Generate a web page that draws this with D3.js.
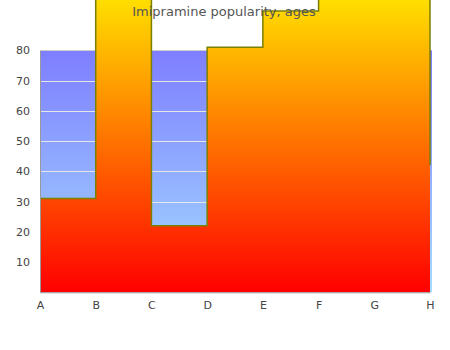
<!DOCTYPE html>
<html>
<head>
<meta charset="utf-8">
<script src="https://cdn.jsdelivr.net/npm/d3@7"></script>
<style>
  html, body { margin: 0; padding: 0; background: #fff; }
  svg { display: block; font-family: "DejaVu Sans", sans-serif; }
</style>
</head>
<body>
<svg id="chart" width="450" height="350"></svg>
<script>
// Popularity by age group, drawn as a stepped area
const categories = ["A", "B", "C", "D", "E", "F", "G", "H"];
const popularity = [31, 104, 22, 81, 93, 108, 111, 42];
const yTicks = [10, 20, 30, 40, 50, 60, 70, 80];
const titleText = "Imipramine popularity, ages";

const svg = d3.select("#chart");
const plotLeft = 40, plotRight = 430, plotTop = 50.3, plotBottom = 292.3;

const x = d3.scalePoint().domain(categories).range([plotLeft, plotRight]);
const y = d3.scaleLinear().domain([0, 80]).range([plotBottom, plotTop]);

const defs = svg.append("defs");

// plot background: blue at the top fading to pale sky blue
const bg = defs.append("linearGradient")
  .attr("id", "bgGrad").attr("x1", 0).attr("y1", 0).attr("x2", 0).attr("y2", 1);
bg.append("stop").attr("offset", "0%").attr("stop-color", "#7e7eff");
bg.append("stop").attr("offset", "100%").attr("stop-color", "#a4dcff");

// area fill: red at the baseline to yellow at the peak
const ag = defs.append("linearGradient")
  .attr("id", "areaGrad").attr("x1", 0).attr("y1", 1).attr("x2", 0).attr("y2", 0);
ag.append("stop").attr("offset", "0%").attr("stop-color", "#ff0000");
ag.append("stop").attr("offset", "100%").attr("stop-color", "#ffff00");

svg.append("rect")
  .attr("x", plotLeft).attr("y", y(80))
  .attr("width", plotRight - plotLeft + 2).attr("height", y(0) - y(80))
  .attr("fill", "url(#bgGrad)");

// horizontal grid lines
svg.append("g")
  .selectAll("line")
  .data(yTicks)
  .join("line")
  .attr("x1", plotLeft).attr("x2", plotRight)
  .attr("y1", d => Math.round(y(d)) + 0.5).attr("y2", d => Math.round(y(d)) + 0.5)
  .attr("stroke", d => d === 80 ? "#cccccc" : "#e6e6e6")
  .attr("stroke-width", 1);

const area = d3.area()
  .x((d, i) => x(categories[i]))
  .y0(y(0))
  .y1(d => y(d))
  .curve(d3.curveStepAfter);

const line = d3.line()
  .x((d, i) => x(categories[i]))
  .y(d => y(d))
  .curve(d3.curveStepAfter);

svg.append("path")
  .datum(popularity)
  .attr("d", area)
  .attr("fill", "url(#areaGrad)");

svg.append("path")
  .datum(popularity)
  .attr("d", line)
  .attr("fill", "none")
  .attr("stroke", "#7a8000")
  .attr("stroke-width", 1.5);

// axes
const yAxis = d3.axisLeft(y)
  .tickValues(yTicks)
  .tickSize(0)
  .tickSizeOuter(0)
  .tickPadding(10);

const gy = svg.append("g")
  .attr("transform", `translate(${plotLeft},0)`)
  .call(yAxis);
gy.select(".domain").attr("stroke", "#999");
gy.selectAll("text").attr("fill", "#444").attr("font-size", 11)
  .attr("font-family", "DejaVu Sans, sans-serif");

const xAxis = d3.axisBottom(x)
  .tickSize(0)
  .tickSizeOuter(0)
  .tickPadding(9);

const gx = svg.append("g")
  .attr("transform", `translate(0,${plotBottom})`)
  .call(xAxis);
gx.select(".domain").attr("stroke", "#999");
gx.selectAll("text").attr("fill", "#444").attr("font-size", 11)
  .attr("font-family", "DejaVu Sans, sans-serif");

// title drawn last, over the area
svg.append("text")
  .attr("x", 224).attr("y", 16)
  .attr("text-anchor", "middle")
  .attr("font-size", 13)
  .attr("fill", "#555")
  .text(titleText);
</script>
</body>
</html>
